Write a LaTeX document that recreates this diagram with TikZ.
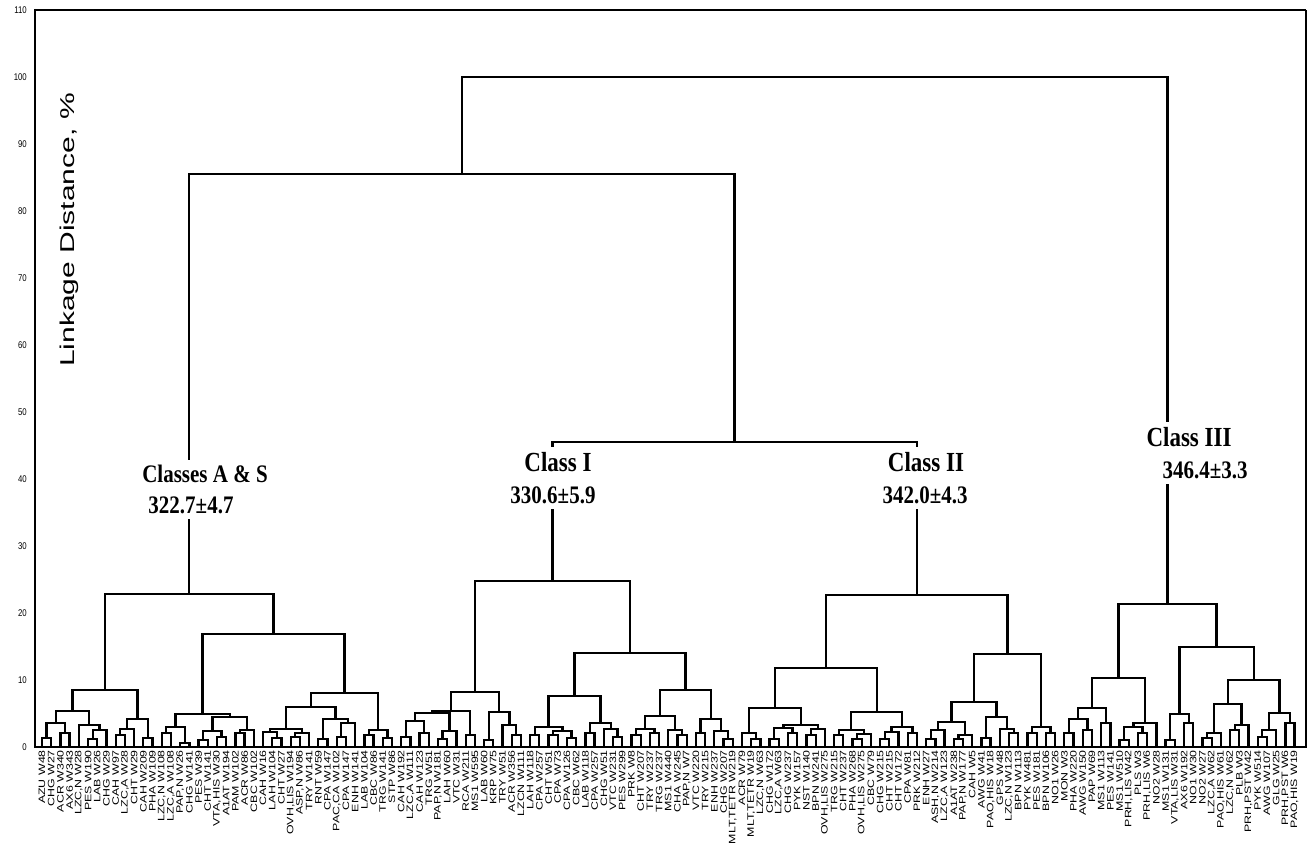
\documentclass[tikz,border=0pt]{standalone}
\usepackage{fontspec}
\setmainfont{Liberation Sans}
\newfontfamily\clsfont{Liberation Serif}
\usetikzlibrary{calc}
\newcommand\dmerge[4]{%
  \path let \p1=(#2), \p2=(#3) in coordinate (#1) at ({(\x1+\x2)/2},{#4pt});
  \draw[tree] (#2) |- (#1) -| (#3);}
\newcommand\dleaf[2]{%
  \coordinate (l#1) at ({42+9.21*(#1-1)},0);
  \node[leaflab] (t#1) at ([yshift=-3pt]l#1) {\scalebox{1.33}[1]{#2}};}
\newcommand\dgap[3]{% cluster coordinate, y from, y to
  \fill[white] let \p1=(#1) in ({\x1-4pt},{#2pt}) rectangle ({\x1+4pt},{#3pt});}
\tikzset{
  tree/.style={line width=2.3pt, line join=miter},
  leaflab/.style={rotate=90, anchor=east, inner sep=0pt, font=\fontsize{9.3}{9.3}\selectfont},
  ticklab/.style={anchor=east, inner sep=0pt, font=\fontsize{7.8}{7.8}\selectfont},
  clab/.style={fill=white, inner xsep=2pt, inner ysep=5pt, font=\clsfont\bfseries\fontsize{21}{21}\selectfont},
  ctitle/.style={clab, font=\clsfont\bfseries\fontsize{23}{23}\selectfont}
}
\begin{document}
\begin{tikzpicture}[x=1pt,y=1pt]
\useasboundingbox (0,-96) rectangle (1311,747);
\fill[white] (0,-96) rectangle (1311,747);
% frame
\draw[line width=1.2pt] (35,737) -- (1306,737);
\draw[line width=1.6pt] (1306,737) -- (1306,0);
\draw[line width=2.5pt] (35,738) -- (35,0);
% ticks
\foreach \v in {0,10,...,110} \node[ticklab] (tk\v) at (27,{6.7*\v}) {\scalebox{1}[1.25]{\v}};
\node[rotate=90, inner sep=0pt, font=\fontsize{20}{20}\selectfont] (ylab) at (69,{747-230}) {\scalebox{1.5}[1]{Linkage Distance, \%}};
% leaves
\dleaf{1}{AZU W48}\dleaf{2}{CHG W27}\dleaf{3}{ACR W340}\dleaf{4}{AX6 W343}
\dleaf{5}{LZC,N W28}\dleaf{6}{PES W190}\dleaf{7}{LAB W26}\dleaf{8}{CHG W29}
\dleaf{9}{CAH W97}\dleaf{10}{LZC,A W28}\dleaf{11}{CHT W29}\dleaf{12}{CAH W209}
\dleaf{13}{PHA W109}\dleaf{14}{LZC,N W108}\dleaf{15}{LZC,A W108}\dleaf{16}{PAP,N W26}
\dleaf{17}{CHG W141}\dleaf{18}{PES W39}\dleaf{19}{CHT W141}\dleaf{20}{VTA,HIS W30}
\dleaf{21}{A1AT W194}\dleaf{22}{PAM W102}\dleaf{23}{ACR W86}\dleaf{24}{CBC W102}
\dleaf{25}{CAH W16}\dleaf{26}{LAH W104}\dleaf{27}{CHT W27}\dleaf{28}{OVH,LIS W194}
\dleaf{29}{ASP,N W86}\dleaf{30}{TRY W141}\dleaf{31}{RNT W59}\dleaf{32}{CPA W147}
\dleaf{33}{PAC,CA W102}\dleaf{34}{CPA W147}\dleaf{35}{ENH W141}\dleaf{36}{LAB W104}
\dleaf{37}{CBC W86}\dleaf{38}{TRG W141}\dleaf{39}{STP W86}\dleaf{40}{CAH W192}
\dleaf{41}{LZC,A W111}\dleaf{42}{CAH W123}\dleaf{43}{TRG W51}\dleaf{44}{PAP,N W181}
\dleaf{45}{LAH W60}\dleaf{46}{VTC W31}\dleaf{47}{RCA W211}\dleaf{48}{MS1 W595}
\dleaf{49}{LAB W60}\dleaf{50}{KRP W75}\dleaf{51}{TRY W51}\dleaf{52}{ACR W356}
\dleaf{53}{LZCN W111}\dleaf{54}{LAH W118}\dleaf{55}{CPA W257}\dleaf{56}{CHT W51}
\dleaf{57}{CPA W73}\dleaf{58}{CPA W126}\dleaf{59}{CBC W62}\dleaf{60}{LAB W118}
\dleaf{61}{CPA W257}\dleaf{62}{CHG W51}\dleaf{63}{VTC W231}\dleaf{64}{PES W299}
\dleaf{65}{PRK W8}\dleaf{66}{CHT W207}\dleaf{67}{TRY W237}\dleaf{68}{TRG W237}
\dleaf{69}{MS1 W440}\dleaf{70}{CHA W245}\dleaf{71}{PAP,N W7}\dleaf{72}{VTC W220}
\dleaf{73}{TRY W215}\dleaf{74}{ENH W237}\dleaf{75}{CHG W207}\dleaf{76}{MLT,TETR W219}
\dleaf{77}{ACR W79}\dleaf{78}{MLT,TETR W19}\dleaf{79}{LZC,N W63}\dleaf{80}{CHG W172}
\dleaf{81}{LZC,A W63}\dleaf{82}{CHG W237}\dleaf{83}{PYK W157}\dleaf{84}{NST W140}
\dleaf{85}{BPN W241}\dleaf{86}{OVH,LIS W275}\dleaf{87}{TRG W215}\dleaf{88}{CHT W237}
\dleaf{89}{PHA W268}\dleaf{90}{OVH,LIS W275}\dleaf{91}{CBC W79}\dleaf{92}{CHG W215}
\dleaf{93}{CHT W215}\dleaf{94}{CHT W172}\dleaf{95}{CPA W81}\dleaf{96}{PRK W212}
\dleaf{97}{ENH W27}\dleaf{98}{ASH,N W214}\dleaf{99}{LZC,A W123}\dleaf{100}{A1AT W238}
\dleaf{101}{PAP,N W177}\dleaf{102}{CAH W5}\dleaf{103}{AWG W41}\dleaf{104}{PAO,HIS W18}
\dleaf{105}{GPS W48}\dleaf{106}{LZC,N W123}\dleaf{107}{BPN W113}\dleaf{108}{PYK W481}
\dleaf{109}{PES W181}\dleaf{110}{BPN W106}\dleaf{111}{NO1 W26}\dleaf{112}{MON W3}
\dleaf{113}{PHA W220}\dleaf{114}{AWG W150}\dleaf{115}{PAP W69}\dleaf{116}{MS1 W113}
\dleaf{117}{PES W141}\dleaf{118}{MS1 W510}\dleaf{119}{PRH,LIS W42}\dleaf{120}{PLS W3}
\dleaf{121}{PRH,LIS W6}\dleaf{122}{NO2 W28}\dleaf{123}{MS1 W131}\dleaf{124}{VTA,LIS W31}
\dleaf{125}{AX6 W192}\dleaf{126}{NO1 W30}\dleaf{127}{NO2 W27}\dleaf{128}{LZC,A W62}
\dleaf{129}{PAO,HIS W61}\dleaf{130}{LZC,N W62}\dleaf{131}{PLB W3}\dleaf{132}{PRH,PST W42}
\dleaf{133}{PYK W514}\dleaf{134}{AWG W107}\dleaf{135}{GLG W25}\dleaf{136}{PRH,PST W6}
\dleaf{137}{PAO,HIS W19}
% ---- Classes A & S
\dmerge{a1}{l1}{l2}{9}\dmerge{a2}{l3}{l4}{14}\dmerge{a3}{a1}{a2}{24}
\dmerge{a4}{l6}{l7}{8}\dmerge{a5}{a4}{l8}{17}\dmerge{a6}{l5}{a5}{22}
\dmerge{G1a}{a3}{a6}{36}
\dmerge{a7}{l9}{l10}{12}\dmerge{a8}{a7}{l11}{18}\dmerge{a9}{l12}{l13}{9}
\dmerge{G1b}{a8}{a9}{28}
\dmerge{G1}{G1a}{G1b}{57}
\dmerge{b1}{l14}{l15}{14}\dmerge{b2}{l16}{l17}{4}\dmerge{b3}{b1}{b2}{20}
\dmerge{b4}{l18}{l19}{7}\dmerge{b5}{l20}{l21}{10}\dmerge{b6}{b4}{b5}{16}
\dmerge{b7}{l22}{l23}{14}\dmerge{b8}{b7}{l24}{17}\dmerge{b9}{b6}{b8}{30}
\dmerge{G2a}{b3}{b9}{33}
\dmerge{c1}{l26}{l27}{9}\dmerge{c2}{l25}{c1}{15}\dmerge{c3}{l28}{l29}{10}
\dmerge{c4}{c3}{l30}{14}\dmerge{P1}{c2}{c4}{18}
\dmerge{c5}{l31}{l32}{8}\dmerge{c6}{l33}{l34}{10}\dmerge{c7}{c6}{l35}{24}
\dmerge{P2}{c5}{c7}{28}\dmerge{P}{P1}{P2}{40}
\dmerge{c8}{l36}{l37}{12}\dmerge{c9}{l38}{l39}{9}\dmerge{Q}{c8}{c9}{17}
\dmerge{G2b}{P}{Q}{54}
\dmerge{G2}{G2a}{G2b}{113}
\dmerge{AS}{G1}{G2}{153}
% ---- Class I
\dmerge{d1}{l40}{l41}{10}\dmerge{d2}{l42}{l43}{14}\dmerge{d3}{d1}{d2}{26}
\dmerge{d4}{l44}{l45}{8}\dmerge{d5}{d4}{l46}{16}\dmerge{d6}{d3}{d5}{34}
\dmerge{d7}{l47}{l48}{12}\dmerge{C1LL}{d6}{d7}{36}
\dmerge{d8}{l49}{l50}{7}\dmerge{d9}{l52}{l53}{12}\dmerge{d10}{l51}{d9}{22}
\dmerge{C1LR}{d8}{d10}{35}
\dmerge{C1L}{C1LL}{C1LR}{55}
\dmerge{e1}{l54}{l55}{12}\dmerge{e2}{l56}{l57}{12}\dmerge{e3}{l58}{l59}{9}
\dmerge{e4}{e2}{e3}{16}\dmerge{e5}{e1}{e4}{20}
\dmerge{e6}{l60}{l61}{14}\dmerge{e7}{l63}{l64}{10}\dmerge{e8}{l62}{e7}{18}
\dmerge{e9}{e6}{e8}{24}
\dmerge{C1Ra}{e5}{e9}{51}
\dmerge{f1}{l65}{l66}{12}\dmerge{f2}{l67}{l68}{14}\dmerge{f3}{f1}{f2}{18}
\dmerge{f4}{l70}{l71}{12}\dmerge{f5}{l69}{f4}{17}\dmerge{f6}{f3}{f5}{31}
\dmerge{f7}{l72}{l73}{14}\dmerge{f8}{l75}{l76}{8}\dmerge{f9}{l74}{f8}{16}
\dmerge{f10}{f7}{f9}{28}
\dmerge{C1Rb}{f6}{f10}{57}
\dmerge{C1R}{C1Ra}{C1Rb}{94}
\dmerge{C1}{C1L}{C1R}{166}
% ---- Class II
\dmerge{g1}{l78}{l79}{8}\dmerge{g2}{l77}{g1}{14}
\dmerge{g3}{l80}{l81}{8}\dmerge{g4}{l82}{l83}{14}\dmerge{g5}{g3}{g4}{19}
\dmerge{g6}{l84}{l85}{12}\dmerge{g7}{g6}{l86}{18}\dmerge{g8}{g5}{g7}{22}
\dmerge{IILa}{g2}{g8}{39}
\dmerge{h1}{l87}{l88}{12}\dmerge{h2}{l89}{l90}{8}\dmerge{h3}{h2}{l91}{13}
\dmerge{h4}{h1}{h3}{17}
\dmerge{h5}{l92}{l93}{8}\dmerge{h6}{h5}{l94}{15}\dmerge{h7}{l95}{l96}{14}
\dmerge{h8}{h6}{h7}{20}
\dmerge{IILb}{h4}{h8}{35}
\dmerge{IIL}{IILa}{IILb}{79}
\dmerge{i1}{l97}{l98}{8}\dmerge{i2}{i1}{l99}{17}\dmerge{i3}{l100}{l101}{8}
\dmerge{i4}{i3}{l102}{12}\dmerge{i5}{i2}{i4}{25}
\dmerge{i6}{l103}{l104}{9}\dmerge{i7}{l106}{l107}{14}\dmerge{i8}{l105}{i7}{18}
\dmerge{i9}{i6}{i8}{30}
\dmerge{IIRa}{i5}{i9}{45}
\dmerge{j1}{l108}{l109}{14}\dmerge{j2}{l110}{l111}{14}\dmerge{IIRb}{j1}{j2}{20}
\dmerge{IIR}{IIRa}{IIRb}{93}
\dmerge{C2}{IIL}{IIR}{152}
% ---- Class III
\dmerge{k1}{l112}{l113}{14}\dmerge{k2}{l114}{l115}{17}\dmerge{k3}{k1}{k2}{28}
\dmerge{k4}{l116}{l117}{24}\dmerge{k5}{k3}{k4}{39}
\dmerge{k6}{l118}{l119}{7}\dmerge{k7}{l120}{l121}{14}\dmerge{k8}{k6}{k7}{20}
\dmerge{k9}{k8}{l122}{24}
\dmerge{C3L}{k5}{k9}{69}
\dmerge{m1}{l123}{l124}{7}\dmerge{m2}{l125}{l126}{24}\dmerge{m3}{m1}{m2}{33}
\dmerge{m4}{l127}{l128}{9}\dmerge{m5}{m4}{l129}{14}
\dmerge{m6}{l130}{l131}{17}\dmerge{m7}{m6}{l132}{22}\dmerge{m8}{m5}{m7}{43}
\dmerge{m9}{l133}{l134}{10}\dmerge{m10}{m9}{l135}{17}\dmerge{m11}{l136}{l137}{24}
\dmerge{m12}{m10}{m11}{34}
\dmerge{m13}{m8}{m12}{67}
\dmerge{C3R}{m3}{m13}{100}
\dmerge{C3}{C3L}{C3R}{143}
% ---- upper levels
\dmerge{C12}{C1}{C2}{305}
\dmerge{LB}{AS}{C12}{573}
\dmerge{root}{LB}{C3}{670}
% baseline
\draw[line width=2.6pt] (34,0) -- (1307,0);
% gaps in the class stems between the two lines of each class label
\dgap{AS}{273}{242}
\dgap{C1}{285}{252}
\dgap{C2}{285}{252}
\dgap{C3}{310}{277}
% class labels
\node[ctitle] (asT) at (205,{747-474}) {\scalebox{1}[1.2]{\fontsize{21}{21}\selectfont Classes A \& S}};
\node[clab] (asV) at (191,{747-505}) {\scalebox{1}[1.2]{322.7±4.7}};
\node[ctitle] (c1T) at (558,{747-462}) {\scalebox{1}[1.2]{Class I}};
\node[clab] (c1V) at (553,{747-495}) {\scalebox{1}[1.2]{330.6±5.9}};
\node[ctitle] (c2T) at (926,{747-462}) {\scalebox{1}[1.2]{Class II}};
\node[clab] (c2V) at (925,{747-495}) {\scalebox{1}[1.2]{342.0±4.3}};
\node[ctitle] (c3T) at (1189,{747-437}) {\scalebox{1}[1.2]{Class III}};
\node[clab] (c3V) at (1205,{747-470}) {\scalebox{1}[1.2]{346.4±3.3}};
\end{tikzpicture}
\end{document}
